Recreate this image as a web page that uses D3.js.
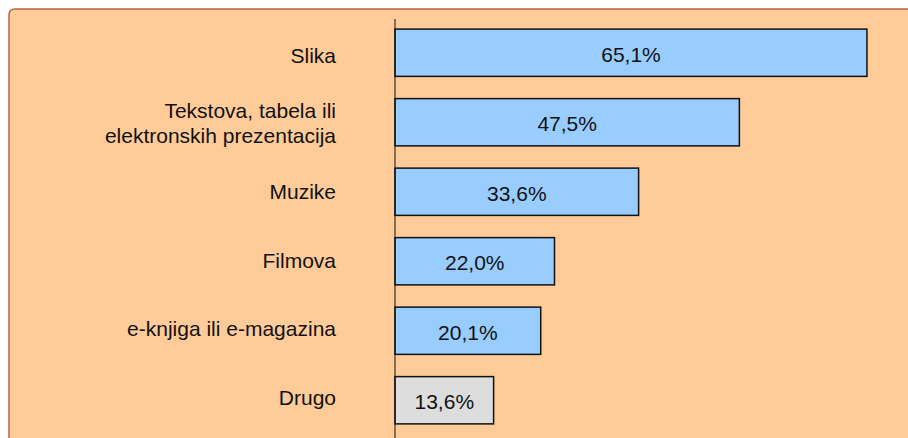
<!DOCTYPE html>
<html>
<head>
<meta charset="utf-8">
<script src="https://cdn.jsdelivr.net/npm/d3@7"></script>
<style>
  html, body { margin: 0; padding: 0; background: #ffffff; }
  svg { display: block; }
</style>
</head>
<body>
<svg id="chart" width="908" height="438"></svg>
<script>
// Categories (each entry is a list of label lines)
const categories = [
  ["Slika"],
  ["Tekstova, tabela ili", "elektronskih prezentacija"],
  ["Muzike"],
  ["Filmova"],
  ["e-knjiga ili e-magazina"],
  ["Drugo"]
];
const values = [65.1, 47.5, 33.6, 22.0, 20.1, 13.6];
const valueLabels = ["65,1%", "47,5%", "33,6%", "22,0%", "20,1%", "13,6%"];
const barColors = ["#99ccff", "#99ccff", "#99ccff", "#99ccff", "#99ccff", "#dddddd"];

const W = 908, H = 438;
const svg = d3.select("#chart");
const font = "'Liberation Sans', Arial, sans-serif";
const fontSize = 21;

// Panel background with rounded top-left corner
const px = 9, py = 9, r = 6;
svg.append("path")
  .attr("d", `M${px},${H + 2} L${px},${py + r} Q${px},${py} ${px + r},${py} L${W + 2},${py} L${W + 2},${H + 2} Z`)
  .attr("fill", "#ffcc99")
  .attr("stroke", "#b8643c")
  .attr("stroke-width", 1.5);

const x0 = 395;
const x = d3.scaleLinear().domain([0, 100]).range([x0, x0 + 725]);
const y = d3.scaleBand()
  .domain(d3.range(categories.length))
  .range([18, 435])
  .paddingInner(0.32)
  .paddingOuter(0.16);

// Category labels sit on a slightly tighter grid than the bars
const yLabel = d3.scalePoint()
  .domain(d3.range(categories.length))
  .range([55, 397]);

// Bars
svg.append("g").selectAll("rect")
  .data(values)
  .join("rect")
  .attr("x", x(0))
  .attr("y", (d, i) => y(i))
  .attr("width", d => x(d) - x(0))
  .attr("height", y.bandwidth())
  .attr("fill", (d, i) => barColors[i])
  .attr("stroke", "#111")
  .attr("stroke-width", 1.5);

// Value labels centred in bars
svg.append("g").selectAll("text")
  .data(values)
  .join("text")
  .attr("x", d => (x(0) + x(d)) / 2)
  .attr("y", (d, i) => y(i) + y.bandwidth() / 2 + 9)
  .attr("text-anchor", "middle")
  .attr("font-family", font)
  .attr("font-size", fontSize)
  .attr("fill", "#111")
  .text((d, i) => valueLabels[i]);

// Category labels
const lineH = 25;
const labels = svg.append("g").selectAll("text")
  .data(categories)
  .join("text")
  .attr("text-anchor", "end")
  .attr("font-family", font)
  .attr("font-size", fontSize)
  .attr("fill", "#111");
labels.each(function (lines, i) {
  const baseY = yLabel(i) + 7.5;
  const startY = baseY - (lines.length - 1) * lineH / 2;
  d3.select(this).selectAll("tspan")
    .data(lines)
    .join("tspan")
    .attr("x", 336)
    .attr("y", (d, j) => startY + j * lineH)
    .text(d => d);
});

// Category axis line
svg.append("line")
  .attr("x1", x0).attr("x2", x0)
  .attr("y1", 19).attr("y2", H)
  .attr("stroke", "#111")
  .attr("stroke-width", 1);
</script>
</body>
</html>
